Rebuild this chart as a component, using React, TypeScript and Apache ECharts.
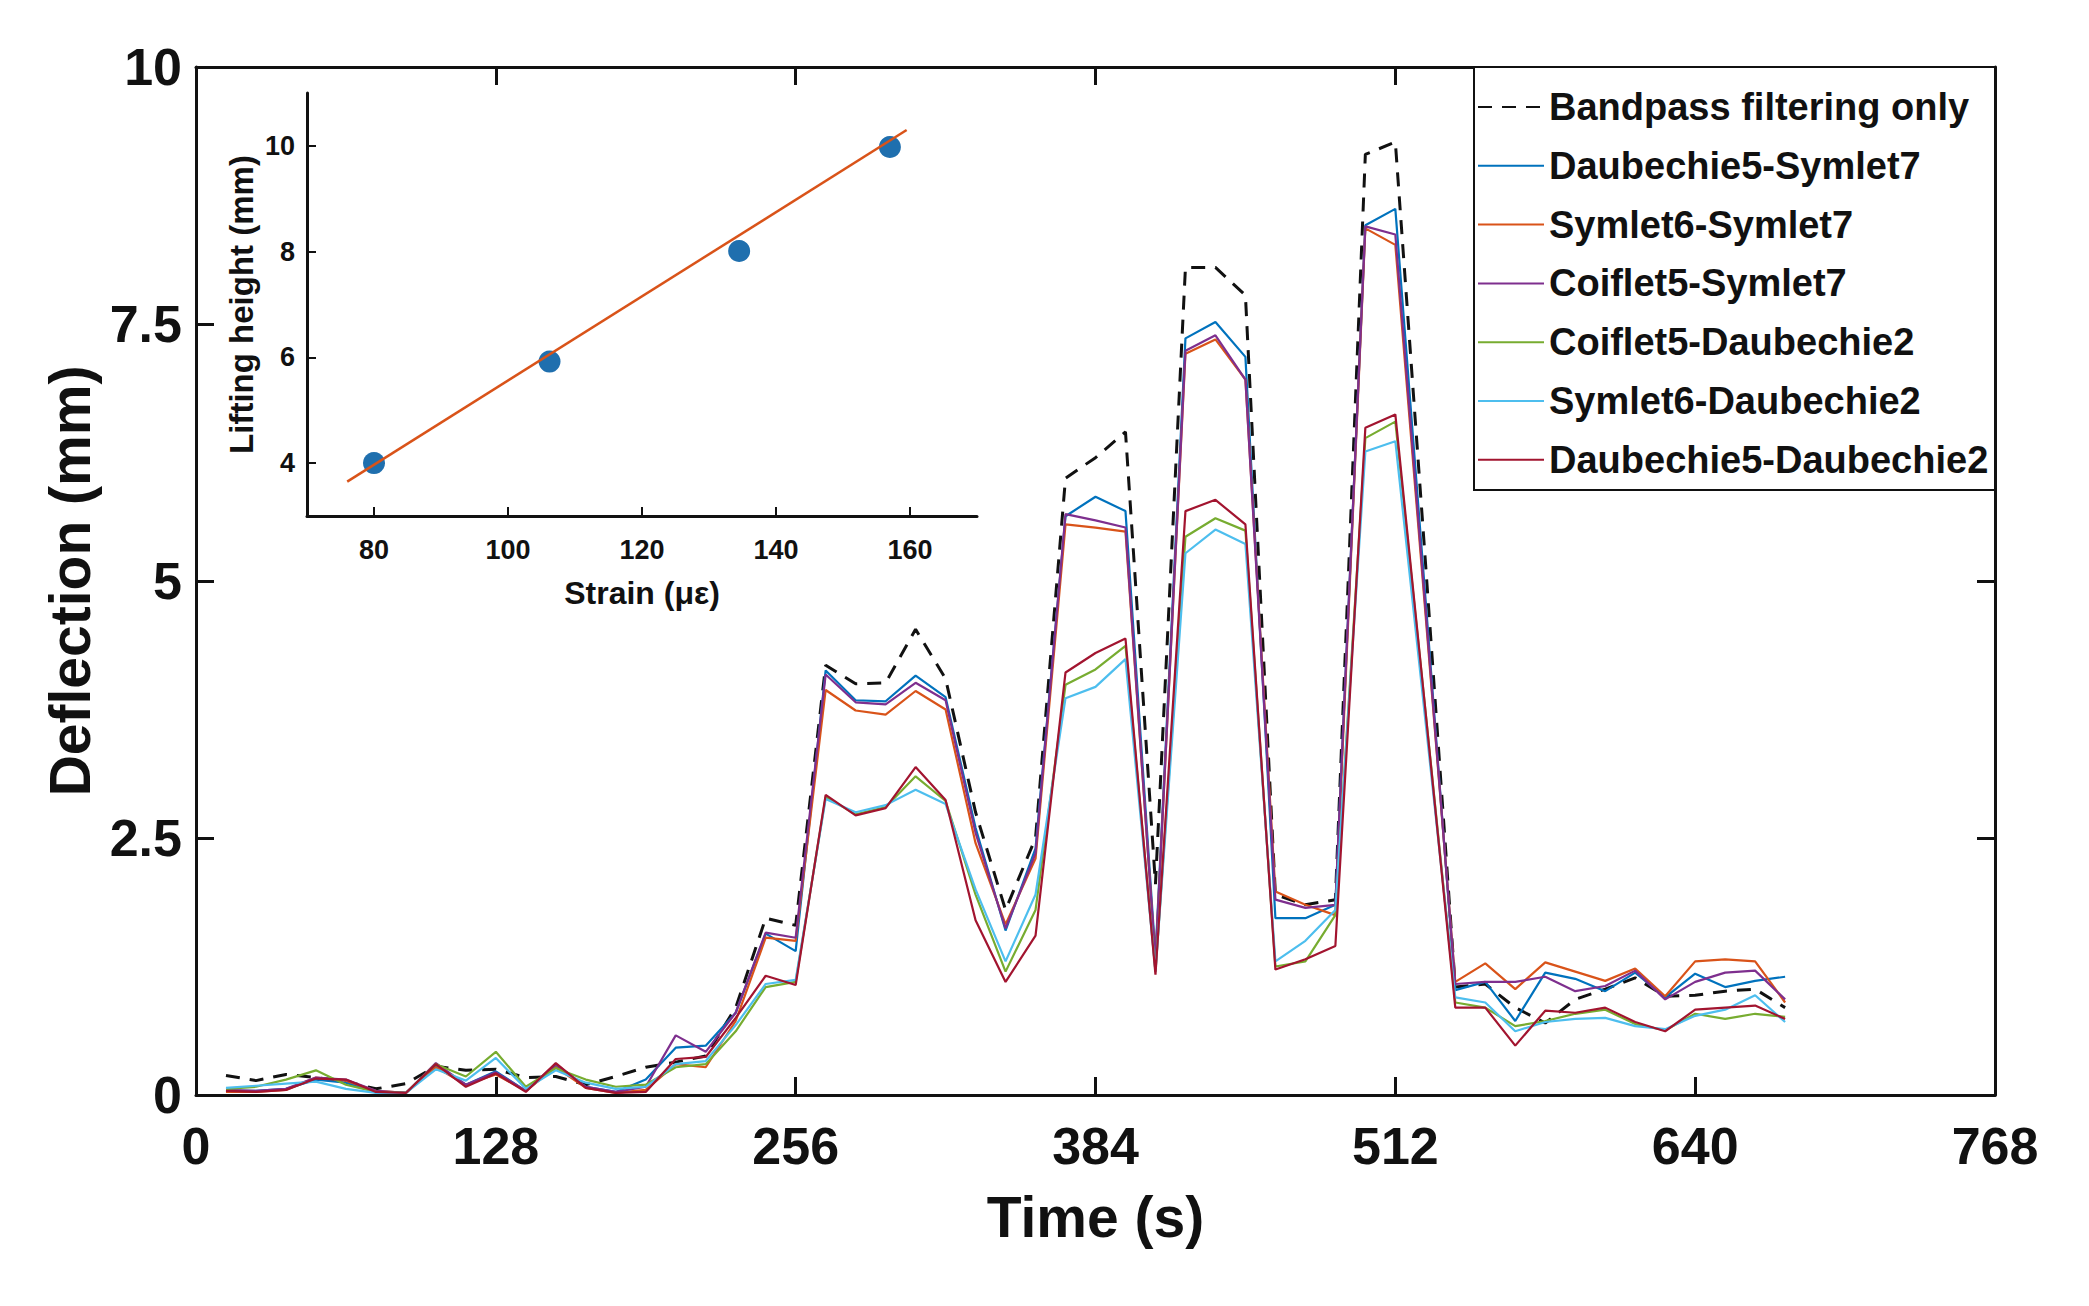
import React from "react";
import * as echarts from "echarts";

const times = [
  12.8, 25.6, 38.4, 51.2, 64, 76.8, 89.6, 102.4, 115.2, 128,
  140.8, 153.6, 166.4, 179.2, 192, 204.8, 217.6, 230.4, 243.2, 256,
  268.8, 281.6, 294.4, 307.2, 320, 332.8, 345.6, 358.4, 371.2, 384,
  396.8, 409.6, 422.4, 435.2, 448, 460.8, 473.6, 486.4, 499.2, 512,
  524.8, 537.6, 550.4, 563.2, 576, 588.8, 601.6, 614.4, 627.2, 640,
  652.8, 665.6, 678.4,
];

const bandpass = [
  0.19, 0.14, 0.2, 0.17, 0.13, 0.06, 0.11, 0.28, 0.24, 0.25,
  0.17, 0.18, 0.1, 0.18, 0.27, 0.32, 0.38, 0.85, 1.72, 1.65,
  4.18, 4.0, 4.01, 4.53, 4.05, 2.75, 1.8, 2.5, 6.0, 6.2,
  6.45, 2.05, 8.05, 8.05, 7.78, 1.95, 1.85, 1.9, 9.15, 9.27,
  5.2, 1.05, 1.08, 0.85, 0.7, 0.93, 1.03, 1.14, 0.96, 0.97,
  1.01, 1.03, 0.85,
];
const d5s7 = [
  0.04, 0.04, 0.06, 0.15, 0.12, 0.03, 0.02, 0.28, 0.1, 0.23,
  0.04, 0.28, 0.08, 0.03, 0.15, 0.46, 0.48, 0.8, 1.57, 1.4,
  4.13, 3.84, 3.83, 4.08, 3.87, 2.6, 1.6, 2.4, 5.63, 5.82,
  5.68, 1.35, 7.36, 7.52, 7.18, 1.72, 1.72, 1.85, 8.46, 8.62,
  4.85, 1.02, 1.1, 0.72, 1.19, 1.13, 1.01, 1.19, 0.95, 1.18,
  1.05, 1.11, 1.15,
];
const s6s7 = [
  0.03, 0.03, 0.05, 0.17, 0.14, 0.04, 0.02, 0.27, 0.1, 0.2,
  0.04, 0.27, 0.07, 0.02, 0.05, 0.3, 0.27, 0.72, 1.53, 1.5,
  3.94, 3.74, 3.7, 3.93, 3.75, 2.45, 1.66, 2.3, 5.55, 5.52,
  5.48, 1.3, 7.21, 7.35, 6.96, 1.98, 1.85, 1.75, 8.43, 8.27,
  4.7, 1.1, 1.28, 1.03, 1.29, 1.2, 1.11, 1.23, 0.96, 1.3,
  1.32, 1.3, 0.9,
];
const c5s7 = [
  0.05, 0.04, 0.06, 0.17, 0.15, 0.04, 0.02, 0.31, 0.1, 0.22,
  0.04, 0.3, 0.08, 0.03, 0.08, 0.58, 0.42, 0.8, 1.58, 1.53,
  4.09, 3.82, 3.8, 4.01, 3.84, 2.55, 1.62, 2.35, 5.65, 5.59,
  5.52, 1.3, 7.24, 7.39, 6.96, 1.9, 1.82, 1.85, 8.45, 8.37,
  4.75, 1.08, 1.1, 1.1, 1.15, 1.01, 1.06, 1.21, 0.93, 1.1,
  1.19, 1.21, 0.93,
];
const c5d2 = [
  0.06, 0.08, 0.15, 0.24, 0.1, 0.03, 0.02, 0.3, 0.18, 0.42,
  0.08, 0.26, 0.15, 0.08, 0.1, 0.27, 0.3, 0.62, 1.05, 1.1,
  2.9, 2.73, 2.8, 3.1, 2.86, 1.95, 1.2, 1.8, 3.99, 4.14,
  4.37, 1.2, 5.43, 5.61, 5.49, 1.25, 1.3, 1.75, 6.39, 6.55,
  3.75, 0.9, 0.85, 0.67, 0.72, 0.79, 0.83, 0.69, 0.63, 0.79,
  0.74, 0.79, 0.76,
];
const s6d2 = [
  0.07, 0.09, 0.11, 0.13, 0.06, 0.02, 0.02, 0.25, 0.14, 0.36,
  0.06, 0.24, 0.12, 0.06, 0.08, 0.3, 0.33, 0.68, 1.08, 1.12,
  2.88, 2.75, 2.82, 2.97, 2.83, 2.0, 1.3, 1.95, 3.86, 3.97,
  4.24, 1.2, 5.27, 5.5, 5.36, 1.3, 1.5, 1.8, 6.26, 6.36,
  3.65, 0.95, 0.9, 0.62, 0.71, 0.74, 0.75, 0.67, 0.64, 0.77,
  0.83, 0.97, 0.71,
];
const d5d2 = [
  0.04, 0.03, 0.05, 0.16, 0.15, 0.03, 0.02, 0.3, 0.08, 0.21,
  0.03, 0.31, 0.07, 0.02, 0.03, 0.35, 0.37, 0.75, 1.16, 1.07,
  2.92, 2.72, 2.79, 3.19, 2.87, 1.7, 1.1, 1.55, 4.11, 4.3,
  4.44, 1.17, 5.68, 5.79, 5.55, 1.22, 1.32, 1.45, 6.49, 6.62,
  3.75, 0.85, 0.85, 0.48, 0.82, 0.8, 0.85, 0.71, 0.62, 0.83,
  0.85, 0.87, 0.74,
];

const seriesNames = [
  "Bandpass filtering only",
  "Daubechie5-Symlet7",
  "Symlet6-Symlet7",
  "Coiflet5-Symlet7",
  "Coiflet5-Daubechie2",
  "Symlet6-Daubechie2",
  "Daubechie5-Daubechie2",
];
const seriesValues = [bandpass, d5s7, s6s7, c5s7, c5d2, s6d2, d5d2];
const seriesColors = ["#111111", "#0072BD", "#D95319", "#7E2F8E", "#77AC30", "#4DBEEE", "#A2142F"];

// inset: strain vs lifting height
const strain = [80, 106.2, 134.5, 157];
const lifting = [4.0, 5.92, 8.01, 9.98];
const fitStrain = [76, 159.5];
const fitLifting = [3.65, 10.3];
const insetXTicks = [80, 100, 120, 140, 160];
const insetYTicks = [4, 6, 8, 10];

const FONT = "'Liberation Sans', Arial, Helvetica, sans-serif";
const INK = "#111111";

export default function App() {
  const ref = React.useRef<HTMLDivElement>(null);

  React.useEffect(() => {
    document.body.style.margin = "0";
    if (!ref.current) return;
    const c = echarts.init(ref.current, undefined, { renderer: "svg" });

    // onZero off so the mirrored top/right axes stay on the box edges
    const boxLine = { show: true, onZero: false, lineStyle: { color: INK, width: 3 } };
    const mainTick = { show: true, inside: true, length: 18, lineStyle: { color: INK, width: 3 } };
    const label = (size: number, margin: number) => ({
      fontFamily: FONT, fontWeight: "bold" as const, fontSize: size, color: INK, margin,
    });

    const main = seriesNames.map((name, i) => ({
      name,
      type: "line",
      xAxisIndex: 0,
      yAxisIndex: 0,
      symbol: "none",
      z: 2 + i,
      data: times.map((t, j) => [t, seriesValues[i][j]]),
      lineStyle: {
        color: seriesColors[i],
        width: i === 0 ? 3 : 2.2,
        type: i === 0 ? [14, 10] : "solid",
      },
      itemStyle: { color: seriesColors[i] },
    }));

    c.setOption({
      animation: false,
      grid: [
        { left: 196, right: 94, top: 67, bottom: 211 },
        { left: 307, top: 93, width: 670, height: 423 },
      ],
      xAxis: [
        {
          type: "value", gridIndex: 0, min: 0, max: 768, interval: 128,
          axisLine: boxLine, axisTick: mainTick, splitLine: { show: false },
          axisLabel: label(52, 25),
          name: "Time (s)", nameLocation: "middle", nameGap: 93,
          nameTextStyle: { fontFamily: FONT, fontWeight: "bold", fontSize: 57, color: INK },
        },
        {
          type: "value", gridIndex: 0, position: "top", min: 0, max: 768, interval: 128,
          axisLine: boxLine, axisTick: mainTick, splitLine: { show: false },
          axisLabel: { show: false },
        },
        {
          type: "value", gridIndex: 1, min: 70, max: 170,
          axisLine: { show: true, onZero: false, lineStyle: { color: INK, width: 3 } },
          axisTick: { show: true, inside: true, length: 9, customValues: insetXTicks, lineStyle: { color: INK, width: 2 } },
          axisLabel: { ...label(27, 20), customValues: insetXTicks },
          splitLine: { show: false },
          name: "Strain (με)", nameLocation: "middle", nameGap: 61,
          nameTextStyle: { fontFamily: FONT, fontWeight: "bold", fontSize: 32, color: INK },
        },
      ],
      yAxis: [
        {
          type: "value", gridIndex: 0, min: 0, max: 10, interval: 2.5,
          axisLine: boxLine, axisTick: mainTick, splitLine: { show: false },
          axisLabel: label(52, 14),
          name: "Deflection (mm)", nameLocation: "middle", nameGap: 97, nameRotate: 90,
          nameTextStyle: { fontFamily: FONT, fontWeight: "bold", fontSize: 57, color: INK },
        },
        {
          type: "value", gridIndex: 0, position: "right", min: 0, max: 10, interval: 2.5,
          axisLine: boxLine, axisTick: mainTick, splitLine: { show: false },
          axisLabel: { show: false },
        },
        {
          type: "value", gridIndex: 1, min: 3, max: 11,
          axisLine: { show: true, onZero: false, lineStyle: { color: INK, width: 3 } },
          axisTick: { show: true, inside: true, length: 9, customValues: insetYTicks, lineStyle: { color: INK, width: 2 } },
          axisLabel: { ...label(27, 12), customValues: insetYTicks },
          splitLine: { show: false },
          name: "Lifting height (mm)", nameLocation: "middle", nameGap: 49, nameRotate: 90,
          nameTextStyle: { fontFamily: FONT, fontWeight: "bold", fontSize: 33, color: INK },
        },
      ],
      legend: {
        data: seriesNames,
        orient: "vertical",
        left: 1477,
        top: 88,
        padding: 0,
        itemWidth: 66,
        itemHeight: 14,
        itemGap: 20.8,
        selectedMode: false,
        z: 10,
        itemStyle: { opacity: 0 },
        textStyle: { fontFamily: FONT, fontWeight: "bold", fontSize: 38, color: INK },
      },
      graphic: [
        {
          type: "rect", z: 5,
          shape: { x: 1474, y: 67, width: 521, height: 423 },
          style: { fill: "#ffffff", stroke: INK, lineWidth: 2 },
        },
      ],
      series: [
        ...main,
        {
          type: "scatter",
          xAxisIndex: 2,
          yAxisIndex: 2,
          symbolSize: 22,
          z: 3,
          itemStyle: { color: "#1f6fae", opacity: 1 },
          data: strain.map((s, i) => [s, lifting[i]]),
        },
        {
          type: "line",
          xAxisIndex: 2,
          yAxisIndex: 2,
          symbol: "none",
          z: 4,
          lineStyle: { color: "#D95319", width: 2.5 },
          data: fitStrain.map((s, i) => [s, fitLifting[i]]),
        },
      ],
    });

    const onResize = () => c.resize();
    window.addEventListener("resize", onResize);
    return () => { window.removeEventListener("resize", onResize); c.dispose(); };
  }, []);

  return <div ref={ref} style={{ width: 2089, height: 1306 }} />;
}
